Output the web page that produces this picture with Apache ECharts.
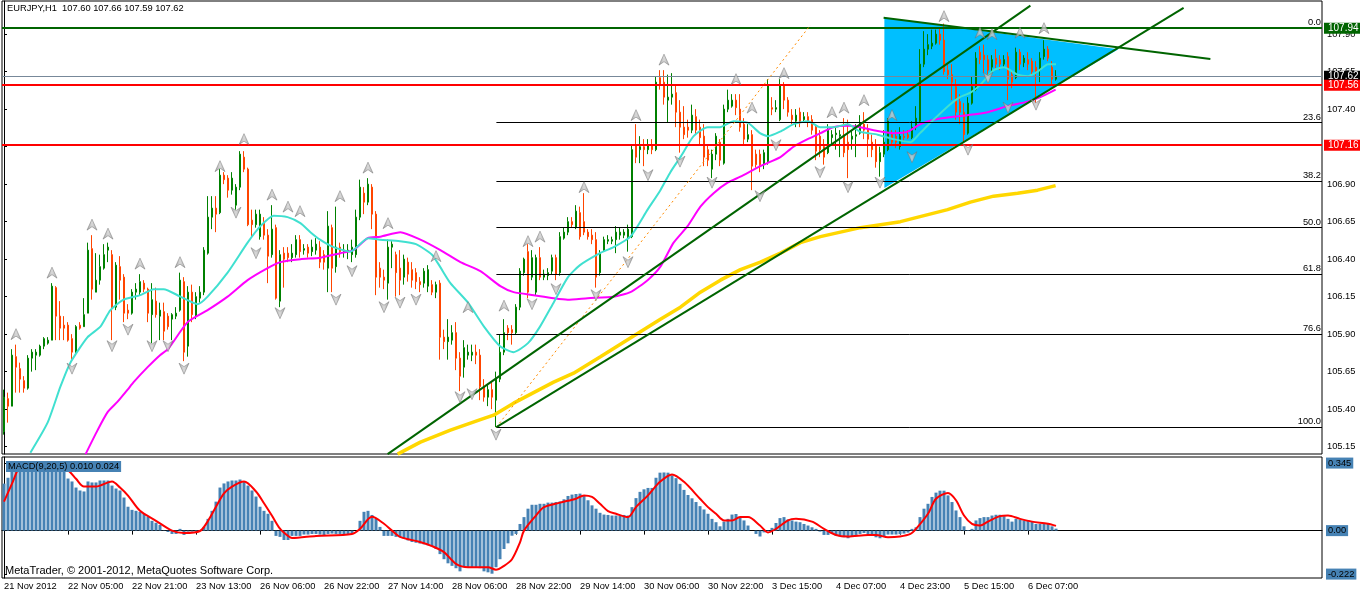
<!DOCTYPE html>
<html><head><meta charset="utf-8">
<script src="https://cdn.jsdelivr.net/npm/echarts@6/dist/echarts.min.js"></script>
<style>html,body{margin:0;padding:0;background:#fff}#c{width:1360px;height:596px}</style>
</head><body><div id="c"></div>
<script>
const tickLabels = ["21 Nov 2012","22 Nov 05:00","22 Nov 21:00","23 Nov 13:00","26 Nov 06:00","26 Nov 22:00","27 Nov 14:00","28 Nov 06:00","28 Nov 22:00","29 Nov 14:00","30 Nov 06:00","30 Nov 22:00","3 Dec 15:00","4 Dec 07:00","4 Dec 23:00","5 Dec 15:00","6 Dec 07:00"];
const priceTicks = [105.15,105.40,105.65,105.90,106.15,106.40,106.65,106.90,107.15,107.40,107.65,107.90];
const macdTicks = [0.345,0,-0.222];
const macdTickText = ["0.345","0.00","-0.222"];
const titleText = "EURJPY,H1  107.60 107.66 107.59 107.62";
const macdText = "MACD(9,20,5) 0.010 0.024";
const copyText = "MetaTrader, \u00a9 2001-2012, MetaQuotes Software Corp.";

// [open, close, low, high]
const ohlc = [
[105.25,105.48,105.23,105.53],[105.47,105.42,105.31,105.51],[105.42,105.76,105.42,105.80],[105.75,105.68,105.51,105.83],[105.67,105.60,105.51,105.71],
[105.59,105.54,105.51,105.62],[105.54,105.74,105.53,105.76],[105.74,105.78,105.65,105.80],[105.76,105.78,105.66,105.80],[105.76,105.82,105.75,105.83],
[105.82,105.87,105.80,105.88],[105.84,105.86,105.83,105.88],[105.86,106.22,105.86,106.24],[106.21,106.02,105.86,106.22],[106.02,105.94,105.86,106.12],
[105.96,105.94,105.86,106.02],[105.96,105.86,105.85,105.98],[105.87,105.78,105.73,105.90],[105.78,105.95,105.76,105.96],[105.96,105.94,105.93,105.98],
[105.95,106.03,105.95,106.14],[106.04,106.46,106.04,106.51],[106.47,106.20,106.13,106.56],[106.18,106.26,106.18,106.44],[106.26,106.35,106.23,106.43],
[106.34,106.43,106.33,106.50],[106.46,106.48,106.38,106.51],[106.43,106.08,105.86,106.46],[106.08,106.36,106.06,106.38],[106.35,106.26,106.13,106.42],
[106.28,106.04,105.98,106.30],[106.06,106.04,106.00,106.10],[106.04,106.18,106.03,106.20],[106.18,106.20,106.13,106.24],[106.18,106.25,106.16,106.30],
[106.24,106.20,106.18,106.26],[106.20,106.04,105.98,106.21],[106.03,106.13,105.84,106.24],[106.12,106.03,106.01,106.21],[106.02,106.06,105.86,106.11],
[106.05,105.92,105.86,106.11],[106.02,105.95,105.93,106.04],[106.00,106.03,105.86,106.04],[106.02,106.04,106.00,106.08],[106.06,106.26,106.05,106.31],
[106.25,105.78,105.72,106.28],[105.82,106.18,105.75,106.22],[106.18,106.03,105.98,106.23],[106.02,106.15,106.00,106.18],[106.14,106.18,106.11,106.22],
[106.18,106.46,106.16,106.48],[106.44,106.68,106.43,106.82],[106.68,106.74,106.60,106.82],[106.74,106.70,106.58,106.82],[106.71,106.96,106.70,107.00],
[106.96,106.93,106.90,106.98],[106.94,106.86,106.81,106.96],[106.86,106.94,106.83,106.98],[106.76,106.88,106.73,106.90],[106.88,107.10,106.86,107.12],
[107.08,107.00,106.98,107.12],[107.00,106.63,106.62,107.01],[106.66,106.63,106.55,106.73],[106.63,106.70,106.61,106.73],[106.55,106.70,106.53,106.73],
[106.65,106.56,106.53,106.68],[106.56,106.42,106.24,106.60],[106.43,106.60,106.41,106.76],[106.61,106.14,106.13,106.63],[106.12,106.43,106.08,106.46],
[106.44,106.40,106.21,106.48],[106.44,106.41,106.38,106.48],[106.41,106.44,106.38,106.50],[106.43,106.53,106.41,106.56],[106.53,106.45,106.41,106.56],
[106.46,106.47,106.43,106.50],[106.48,106.44,106.41,106.50],[106.45,106.48,106.42,106.53],[106.46,106.50,106.43,106.54],[106.48,106.38,106.34,106.52],
[106.43,106.38,106.33,106.46],[106.34,106.62,106.18,106.72],[106.61,106.34,106.18,106.63],[106.35,106.48,106.31,106.75],[106.48,106.45,106.41,106.51],
[106.45,106.46,106.41,106.50],[106.45,106.46,106.40,106.50],[106.43,106.48,106.38,106.53],[106.43,106.68,106.41,106.73],[106.68,106.88,106.66,106.93],
[106.84,106.78,106.70,106.88],[106.78,106.90,106.76,106.94],[106.88,106.70,106.60,106.90],[106.70,106.28,106.16,106.72],[106.34,106.28,106.21,106.38],
[106.28,106.26,106.20,106.33],[106.24,106.48,106.13,106.53],[106.48,106.50,106.34,106.52],[106.43,106.31,106.15,106.45],[106.34,106.26,106.16,106.46],
[106.28,106.40,106.23,106.43],[106.38,106.30,106.25,106.41],[106.33,106.26,106.21,106.38],[106.31,106.25,106.20,106.34],[106.25,106.23,106.18,106.28],
[106.24,106.32,106.21,106.34],[106.22,106.33,106.18,106.36],[106.23,106.18,106.16,106.26],[106.18,106.23,106.14,106.25],[106.24,105.88,105.73,106.26],
[105.88,105.85,105.80,105.93],[105.85,105.88,105.73,106.00],[105.86,105.91,105.83,105.96],[105.91,105.74,105.66,105.98],[105.74,105.62,105.52,105.78],
[105.68,105.81,105.61,105.86],[105.76,105.78,105.73,105.83],[105.76,105.78,105.72,105.83],[105.78,105.76,105.70,105.83],[105.76,105.55,105.46,105.80],
[105.55,105.48,105.45,105.60],[105.48,105.53,105.42,105.56],[105.53,105.48,105.40,105.58],[105.46,105.61,105.28,105.65],[105.60,105.78,105.58,105.90],
[105.78,105.91,105.76,106.00],[105.94,105.91,105.86,105.96],[105.93,105.91,105.83,105.96],[105.91,106.08,105.90,106.10],[106.08,106.32,106.06,106.34],
[106.31,106.40,106.29,106.41],[106.45,106.18,106.14,106.50],[106.28,106.41,106.26,106.46],[106.18,106.41,106.16,106.43],[106.41,106.28,106.26,106.48],
[106.28,106.30,106.26,106.33],[106.29,106.31,106.26,106.34],[106.32,106.41,106.30,106.43],[106.41,106.30,106.26,106.43],[106.31,106.55,106.29,106.58],
[106.54,106.58,106.53,106.61],[106.58,106.65,106.56,106.68],[106.65,106.63,106.61,106.68],[106.61,106.72,106.60,106.76],[106.71,106.55,106.53,106.75],
[106.65,106.58,106.56,106.84],[106.58,106.55,106.53,106.60],[106.56,106.53,106.50,106.60],[106.53,106.28,106.21,106.58],[106.31,106.44,106.29,106.46],
[106.46,106.53,106.45,106.55],[106.52,106.53,106.50,106.56],[106.52,106.53,106.50,106.55],[106.53,106.58,106.44,106.62],[106.56,106.58,106.53,106.61],
[106.56,106.58,106.54,106.60],[106.55,106.60,106.45,106.63],[106.55,107.13,106.54,107.16],[107.16,107.08,107.04,107.30],[107.13,107.15,107.04,107.22],
[107.15,107.13,107.02,107.20],[107.13,107.16,107.10,107.20],[107.16,107.13,107.10,107.20],[107.13,107.58,107.12,107.62],[107.61,107.56,107.53,107.66],
[107.58,107.48,107.43,107.66],[107.46,107.48,107.31,107.63],[107.48,107.50,107.43,107.64],[107.51,107.38,107.28,107.56],[107.38,107.28,107.11,107.46],
[107.28,107.23,107.20,107.42],[107.28,107.26,107.21,107.33],[107.26,107.36,107.24,107.43],[107.35,107.26,107.23,107.40],[107.28,107.21,107.16,107.33],
[107.22,107.08,107.02,107.30],[107.13,107.06,107.02,107.16],[107.00,107.10,106.94,107.13],[107.10,107.22,107.06,107.24],[107.18,107.06,107.02,107.20],
[107.04,107.40,107.03,107.43],[107.40,107.46,107.38,107.53],[107.42,107.46,107.41,107.50],[107.46,107.41,107.36,107.50],[107.40,107.28,107.25,107.50],
[107.30,107.20,107.16,107.34],[107.20,107.23,107.18,107.30],[107.23,107.02,106.86,107.26],[107.10,107.03,107.01,107.13],[107.10,107.03,106.98,107.13],
[107.03,107.11,107.00,107.13],[107.05,107.56,107.03,107.60],[107.41,107.40,107.36,107.48],[107.40,107.41,107.38,107.46],[107.33,107.56,107.32,107.60],
[107.56,107.46,107.40,107.58],[107.46,107.38,107.35,107.48],[107.36,107.33,107.30,107.40],[107.32,107.36,107.28,107.40],[107.38,107.31,107.28,107.41],
[107.33,107.35,107.31,107.38],[107.35,107.32,107.28,107.38],[107.33,107.26,107.23,107.36],[107.28,107.12,107.06,107.30],[107.22,107.13,107.08,107.26],
[107.15,107.08,107.03,107.20],[107.11,107.26,107.10,107.30],[107.21,107.23,107.16,107.26],[107.23,107.24,107.13,107.28],[107.22,107.23,107.08,107.26],
[107.22,107.11,107.08,107.34],[107.18,107.13,106.94,107.33],[107.20,107.22,107.13,107.26],[107.22,107.23,107.08,107.30],[107.24,107.30,107.23,107.36],
[107.30,107.26,107.20,107.38],[107.26,107.20,107.08,107.30],[107.18,107.13,107.08,107.23],[107.16,107.05,107.01,107.20],[107.05,107.11,106.95,107.15],
[107.10,107.18,107.08,107.26],[107.13,107.32,107.12,107.34],[107.23,107.18,107.16,107.26],[107.22,107.18,107.14,107.26],[107.15,107.22,107.13,107.28],
[107.22,107.21,107.18,107.26],[107.23,107.21,107.20,107.26],[107.21,107.28,107.20,107.32],[107.28,107.34,107.26,107.42],[107.32,107.70,107.31,107.80],
[107.70,107.80,107.68,107.92],[107.80,107.83,107.76,107.90],[107.82,107.84,107.80,107.93],[107.84,107.90,107.83,107.93],[107.90,107.86,107.83,107.94],
[107.86,107.65,107.63,107.97],[107.66,107.63,107.60,107.70],[107.63,107.58,107.46,107.70],[107.55,107.38,107.33,107.60],[107.45,107.38,107.30,107.50],
[107.38,107.23,107.18,107.44],[107.24,107.44,107.23,107.48],[107.44,107.55,107.43,107.62],[107.53,107.74,107.52,107.78],[107.78,107.73,107.70,107.82],
[107.76,107.73,107.64,107.83],[107.73,107.66,107.63,107.76],[107.68,107.73,107.65,107.76],[107.74,107.70,107.66,107.80],[107.73,107.70,107.66,107.76],
[107.70,107.73,107.68,107.76],[107.75,107.60,107.46,107.78],[107.63,107.58,107.54,107.66],[107.61,107.78,107.60,107.81],[107.78,107.70,107.66,107.80],
[107.71,107.74,107.68,107.76],[107.73,107.70,107.66,107.78],[107.72,107.65,107.63,107.74],[107.68,107.64,107.44,107.72],[107.66,107.74,107.58,107.78],
[107.75,107.80,107.73,107.86],[107.80,107.74,107.72,107.82],[107.68,107.60,107.56,107.72],[107.60,107.62,107.59,107.66]
];

// moving averages: [bar, price]
const maFast = [[6.6,105.11],[10.9,105.31],[14.1,105.55],[16.6,105.71],[20.9,105.88],[24.1,105.95],[26.6,106.06],[29.9,106.13],[34.1,106.16],[37.4,106.20],[39.9,106.20],[44.1,106.15],[48.4,106.10],[50.9,106.15],[55.9,106.31],[60.9,106.51],[64.1,106.62],[67.4,106.69],[70.9,106.68],[74.1,106.64],[76.6,106.58],[79,106.53],[82.4,106.48],[86.6,106.45],[91,106.54],[94,106.53],[99,106.52],[103,106.50],[107,106.43],[109,106.35],[111.6,106.24],[116,106.11],[120,105.95],[124,105.82],[127.4,105.78],[131,105.84],[134,105.95],[137.4,106.11],[141,106.28],[144,106.36],[149,106.44],[152.4,106.48],[156.6,106.55],[160.9,106.73],[164.1,106.86],[166.6,106.98],[169.1,107.08],[172.4,107.22],[175.9,107.28],[179,107.28],[182.4,107.32],[185.9,107.31],[189,107.24],[191,107.22],[194,107.25],[197.4,107.30],[201,107.32],[204,107.28],[207.4,107.28],[211,107.30],[214,107.25],[218.4,107.23],[222.4,107.20],[226.6,107.18],[229,107.24],[232.4,107.33],[236,107.42],[239,107.48],[241.6,107.51],[244,107.56],[247.4,107.66],[250,107.68],[253.4,107.63],[256,107.62],[258.4,107.65],[261,107.70],[263,107.70]];
const maMid = [[20.4,105.10],[23.4,105.26],[25.9,105.38],[28.4,105.45],[30.9,105.53],[32.4,105.58],[35.9,105.68],[39,105.76],[41,105.80],[45.9,105.98],[50.9,106.06],[55.9,106.15],[60.9,106.26],[65.9,106.34],[69.1,106.38],[74.1,106.40],[79.1,106.41],[84.1,106.44],[87.4,106.46],[90.9,106.54],[94.1,106.55],[99.1,106.58],[104.1,106.53],[109.1,106.46],[114.1,106.38],[119.1,106.32],[124.1,106.22],[127.4,106.18],[132.4,106.16],[137.4,106.14],[140.9,106.13],[145.9,106.14],[152.4,106.15],[156.6,106.18],[160.9,106.26],[164.1,106.35],[167.4,106.51],[170.9,106.62],[174.1,106.75],[177.4,106.84],[180.9,106.91],[184.1,106.95],[189.1,107.02],[194.1,107.08],[197.4,107.15],[200.9,107.20],[204.1,107.24],[207.4,107.28],[210.9,107.29],[214.1,107.28],[217.4,107.26],[222.4,107.24],[225.9,107.25],[229.1,107.30],[232.4,107.33],[237.4,107.35],[240.9,107.36],[245.9,107.38],[250.9,107.42],[255.9,107.45],[259.1,107.48],[262.9,107.53]];
const maSlow = [[98.4,105.10],[104.1,105.18],[111.6,105.26],[119.1,105.33],[122.4,105.36],[127.4,105.44],[132.4,105.51],[137.4,105.58],[142.4,105.64],[149.1,105.75],[164.1,106.00],[169.1,106.08],[174.1,106.18],[179.1,106.26],[184.1,106.33],[189.1,106.38],[194.1,106.44],[199.1,106.51],[204.1,106.55],[209.1,106.58],[214.1,106.61],[219.1,106.63],[224.1,106.65],[235.9,106.73],[241.6,106.78],[247.4,106.82],[253.4,106.84],[258.4,106.86],[262.9,106.89]];

const macdHist = [0.24,0.27,0.30,0.32,0.33,0.335,0.34,0.345,0.345,0.34,0.34,0.335,0.34,0.33,0.32,0.30,0.266,0.251,0.22,0.205,
0.20,0.251,0.246,0.246,0.256,0.256,0.256,0.23,0.215,0.205,0.169,0.122,0.106,0.101,0.096,0.086,0.071,0.050,0.040,0.029,
-0.002,-0.007,-0.017,-0.017,0.009,-0.022,-0.005,-0.005,0.003,0.003,0.019,0.060,0.101,0.148,0.220,0.241,0.251,0.256,0.256,0.261,
0.25,0.230,0.205,0.174,0.122,0.101,0.086,0.050,-0.027,-0.032,-0.048,-0.048,-0.027,-0.027,-0.027,-0.02,-0.02,-0.017,-0.017,-0.02,
-0.022,-0.017,-0.015,-0.017,-0.017,-0.02,-0.02,-0.017,0.00,0.050,0.096,0.101,0.080,0.060,0.019,-0.027,-0.027,-0.027,-0.032,-0.034,
-0.04,-0.05,-0.058,-0.062,-0.066,-0.07,-0.075,-0.08,-0.094,-0.12,-0.146,-0.167,-0.18,-0.192,-0.208,-0.187,-0.187,-0.187,-0.187,-0.192,
-0.208,-0.213,-0.22,-0.187,-0.146,-0.094,-0.065,-0.026,-0.017,0.034,0.069,0.112,0.132,0.132,0.137,0.137,0.143,0.143,0.146,0.149,
0.160,0.177,0.184,0.187,0.189,0.180,0.155,0.129,0.112,0.091,0.082,0.080,0.077,0.077,0.077,0.080,0.077,0.12,0.166,0.198,
0.211,0.218,0.218,0.27,0.296,0.297,0.296,0.282,0.268,0.239,0.208,0.182,0.165,0.146,0.125,0.108,0.086,0.06,0.043,0.022,
0.046,0.06,0.082,0.085,0.069,0.052,0.026,0.0,-0.017,-0.03,-0.009,0.002,0.014,0.039,0.064,0.069,0.057,0.052,0.046,0.043,
0.034,0.026,0.017,0.009,-0.005,-0.022,-0.022,-0.017,-0.026,-0.03,-0.034,-0.039,-0.03,-0.022,-0.017,-0.012,-0.017,-0.026,-0.034,-0.039,
-0.03,-0.02,-0.02,-0.02,-0.018,-0.015,-0.01,0.009,0.017,0.069,0.112,0.137,0.172,0.194,0.204,0.204,0.18,0.146,0.103,0.069,
0.022,0.003,0.009,0.052,0.064,0.069,0.069,0.077,0.081,0.081,0.074,0.06,0.046,0.06,0.057,0.052,0.052,0.046,0.034,0.034,
0.034,0.034,0.022,0.010];
const macdSignal = [[0,0.148],[2,0.24],[4,0.33],[6,0.35],[10,0.35],[13,0.34],[16,0.309],[18,0.265],[20,0.225],[23,0.225],[27,0.251],[29,0.22],[31,0.179],[34,0.101],[38,0.050],[42,0.0],[45,-0.012],[49,-0.002],[51,0.05],[53,0.122],[55,0.19],[57,0.225],[60,0.251],[63,0.200],[65,0.14],[67,0.076],[69,0.01],[71,-0.027],[72,-0.038],[78,-0.027],[87,-0.017],[89,0.009],[92,0.071],[95,0.035],[97,0.0],[99,-0.032],[104,-0.058],[107,-0.079],[110,-0.11],[113,-0.17],[116,-0.187],[121,-0.187],[123,-0.2],[125,-0.18],[127,-0.146],[129,-0.06],[130,0.0],[133,0.077],[135,0.12],[139,0.143],[143,0.163],[145,0.18],[147,0.172],[149,0.137],[151,0.1],[153,0.086],[156,0.069],[158,0.12],[161,0.18],[164,0.249],[167,0.287],[170,0.249],[174,0.163],[176,0.12],[178,0.086],[180,0.052],[182,0.052],[184,0.069],[186,0.069],[189,0.026],[191,-0.009],[193,0.009],[196,0.052],[198,0.060],[202,0.046],[205,0.009],[208,-0.022],[211,-0.03],[216,-0.022],[218,-0.022],[221,-0.034],[224,-0.03],[226.6,-0.017],[228,0.009],[231,0.086],[233,0.163],[236,0.192],[238,0.155],[240,0.077],[242,0.034],[244,0.026],[246,0.046],[249,0.074],[251,0.077],[254,0.06],[257,0.046],[261,0.035],[263,0.024]];

const fractalUp = [[3,105.90],[12,106.31],[22,106.63],[26,106.57],[34,106.37],[44,106.38],[54,107.02],[60,107.20],[67,106.83],[71,106.75],[74,106.72],[84,106.82],[91,107.01],[96,106.64],[108,106.42],[116,106.08],[125,106.09],[131,106.52],[134,106.55],[145,106.88],[158,107.36],[165,107.73],[183,107.60],[187,107.41],[195,107.64],[207,107.38],[210,107.41],[215,107.46],[222,107.36],[235,108.02],[244,107.91],[247,107.90],[254,107.91],[260,107.94]];
const fractalDown = [[17,105.67],[27,105.82],[31,105.93],[37,105.82],[41,105.82],[45,105.67],[58,106.71],[63,106.44],[69,106.04],[83,106.13],[87,106.32],[95,106.08],[99,106.11],[103,106.13],[114,105.48],[117,105.50],[123,105.23],[132,106.10],[138,106.20],[148,106.16],[156,106.38],[161,106.96],[169,107.05],[177,106.91],[189,106.82],[193,107.16],[204,106.98],[211,106.88],[219,106.91],[227,107.08],[241,107.13],[246,107.61],[251,107.41],[258,107.43]];

const fibNames = ["0.0","23.6","38.2","50.0","61.8","76.6","100.0"];
const fibPrices = [107.94,107.31,106.92,106.61,106.30,105.90,105.28];
const fibStart = 123.1;
const levelPrices = [107.94,107.62,107.56,107.16];
const trendA = [[95.9,105.10],[256.6,108.09]];
const trendB = [[123.1,105.28],[294.9,108.075]];
const trendC = [[219.9,108.01],[301.6,107.735]];
const fibDiagonal = [[123.1,105.28],[201.6,107.96]];
const triangle = [[220.1,108.01],[220.1,106.875],[278.6,107.80]];

const FONT = '"Liberation Sans", Arial, sans-serif';
const NSLOT = 330;
const slots = Array.from({length: NSLOT}, (_, i) => String(i));
const levelColors = ['#006400','#778899','#FF0000','#FF0000'];
const levelTagBg = ['#006400','#000000','#FF0000','#FF0000'];
const levelWidths = [2,1,2,2];
const ARROW = 'path://M5,0 L10,11 L5,7.5 L0,11 Z';
const arrowStyle = {color: new echarts.graphic.LinearGradient(0, 0, 1, 0, [{offset: 0, color: '#8A8A8A'}, {offset: 0.5, color: '#D0D0D0'}, {offset: 1, color: '#9A9A9A'}]), borderColor: '#707070', borderWidth: 0.6};

const chart = echarts.init(document.getElementById('c'), null, {renderer: 'canvas'});
const labelEvery = i => i % 16 === 0 && (i / 16) < tickLabels.length;
const txt = (size) => ({fontSize: size, fontWeight: 'normal', color: '#000', fontFamily: FONT});

const option = {
  animation: false,
  backgroundColor: '#ffffff',
  textStyle: {fontFamily: FONT},
  title: [
    {text: titleText, left: 7, top: 4, padding: 0, textStyle: txt(9.3)},
    {text: macdText, left: 6, top: 461, padding: [1, 2, 1, 2], backgroundColor: '#4682B4', textStyle: txt(9.3)},
    {text: copyText, left: 5, top: 565, padding: 0, textStyle: txt(11)}
  ],
  grid: [
    {left: 2, top: 1, width: 1320, height: 453, show: true, borderColor: '#000', borderWidth: 1, backgroundColor: '#fff'},
    {left: 2, top: 457, width: 1320, height: 121, show: true, borderColor: '#000', borderWidth: 1, backgroundColor: '#fff'}
  ],
  xAxis: [
    {type: 'category', gridIndex: 0, data: slots, boundaryGap: true, axisLine: {show: false}, axisTick: {show: false}, axisLabel: {show: false}, splitLine: {show: false}},
    {type: 'category', gridIndex: 1, data: slots, boundaryGap: true,
      axisLine: {show: true, lineStyle: {color: '#000', width: 1}},
      axisTick: {show: true, interval: labelEvery, alignWithLabel: true, length: 4, lineStyle: {color: '#000'}},
      axisLabel: Object.assign({show: true, interval: labelEvery, align: 'left', margin: 4,
        formatter: (v, idx) => tickLabels[Math.round(idx / 16)] || ''}, txt(9.3)),
      splitLine: {show: false}},
    {type: 'value', gridIndex: 0, min: -0.5, max: NSLOT - 0.5, show: false},
    {type: 'value', gridIndex: 1, min: -0.5, max: NSLOT - 0.5, show: false}
  ],
  yAxis: [
    {type: 'value', gridIndex: 0, position: 'right', min: 105.101, max: 108.121, scale: true,
      axisLine: {show: true, lineStyle: {color: '#000'}},
      axisTick: {show: true, inside: false, length: 3, customValues: priceTicks, lineStyle: {color: '#000'}},
      axisLabel: Object.assign({show: true, customValues: priceTicks, margin: 5, formatter: v => v.toFixed(2)}, txt(9.3)),
      splitLine: {show: false}},
    {type: 'value', gridIndex: 1, position: 'right', min: -0.242, max: 0.376,
      axisLine: {show: true, lineStyle: {color: '#000'}},
      axisTick: {show: true, inside: false, length: 3, customValues: macdTicks, lineStyle: {color: '#000'}},
      axisLabel: Object.assign({show: true, customValues: macdTicks, margin: 4,
        backgroundColor: '#4682B4', padding: [1, 2, 1, 2],
        formatter: v => { let k = macdTicks.findIndex(t => Math.abs(t - v) < 1e-6); return k >= 0 ? macdTickText[k] : ''; }}, txt(9.3)),
      splitLine: {show: false}}
  ],
  series: [
    {type: 'custom', name: 'triangle', xAxisIndex: 2, yAxisIndex: 0, z: 1, silent: true,
      data: [0],
      renderItem: (params, api) => ({
        type: 'polygon',
        shape: {points: triangle.map(p => api.coord(p))},
        style: {fill: '#00BFFF', stroke: null}
      })},
    {type: 'line', name: 'fib', xAxisIndex: 2, yAxisIndex: 0, z: 2, data: [], silent: true,
      markLine: {silent: true, symbol: ['none', 'none'], animation: false,
        data: fibPrices.map((p, k) => [
          {coord: [fibStart, p], lineStyle: {color: '#000', width: 1, type: 'solid'},
            label: Object.assign({show: true, position: 'insideEndTop', formatter: fibNames[k], distance: 1}, txt(9.3))},
          {coord: [NSLOT - 0.5, p]}
        ])}},
    {type: 'candlestick', name: 'EURJPY', xAxisIndex: 0, yAxisIndex: 0, z: 3, data: ohlc, barWidth: 2,
      itemStyle: {color: '#008000', color0: '#FF4500', borderColor: '#008000', borderColor0: '#FF4500', borderWidth: 1}},
    {type: 'line', name: 'maSlow', xAxisIndex: 2, yAxisIndex: 0, z: 4, data: maSlow, showSymbol: false, symbol: 'none', lineStyle: {color: '#FFD700', width: 3.5}},
    {type: 'line', name: 'maMid', xAxisIndex: 2, yAxisIndex: 0, z: 4, data: maMid, showSymbol: false, symbol: 'none', smooth: 0.2, lineStyle: {color: '#FF00FF', width: 2}},
    {type: 'line', name: 'maFast', xAxisIndex: 2, yAxisIndex: 0, z: 4, data: maFast, showSymbol: false, symbol: 'none', smooth: 0.2, lineStyle: {color: '#40E0D0', width: 2}},
    {type: 'line', name: 'fibDiag', xAxisIndex: 2, yAxisIndex: 0, z: 5, data: fibDiagonal, showSymbol: false, symbol: 'none', lineStyle: {color: '#FF8C00', width: 1, type: [2, 3]}},
    {type: 'line', name: 'trendA', xAxisIndex: 2, yAxisIndex: 0, z: 5, data: trendA, showSymbol: false, symbol: 'none', lineStyle: {color: '#006400', width: 2}},
    {type: 'line', name: 'trendB', xAxisIndex: 2, yAxisIndex: 0, z: 5, data: trendB, showSymbol: false, symbol: 'none', lineStyle: {color: '#006400', width: 2}},
    {type: 'line', name: 'trendC', xAxisIndex: 2, yAxisIndex: 0, z: 5, data: trendC, showSymbol: false, symbol: 'none', lineStyle: {color: '#006400', width: 2}},
    {type: 'line', name: 'levels', xAxisIndex: 2, yAxisIndex: 0, z: 6, data: [], silent: true,
      markLine: {silent: true, symbol: ['none', 'none'], animation: false,
        data: levelPrices.map((p, k) => ({yAxis: p, lineStyle: {color: levelColors[k], width: levelWidths[k], type: 'solid'},
          label: {show: true, position: 'end', distance: 2, formatter: p.toFixed(2), color: '#fff', backgroundColor: levelTagBg[k],
            padding: [1, 4, 0, 4], fontSize: 10, fontFamily: FONT}}))}},
    {type: 'scatter', name: 'fractalUp', xAxisIndex: 2, yAxisIndex: 0, z: 7, data: fractalUp, silent: true,
      symbol: ARROW, symbolSize: [10, 11], itemStyle: arrowStyle},
    {type: 'scatter', name: 'fractalDown', xAxisIndex: 2, yAxisIndex: 0, z: 7, data: fractalDown, silent: true,
      symbol: ARROW, symbolSize: [10, 11], symbolRotate: 180, itemStyle: arrowStyle},
    {type: 'bar', name: 'macd', xAxisIndex: 1, yAxisIndex: 1, z: 2, data: macdHist, barWidth: 3, itemStyle: {color: '#4682B4'}},
    {type: 'line', name: 'signal', xAxisIndex: 3, yAxisIndex: 1, z: 3, data: macdSignal, showSymbol: false, symbol: 'none', smooth: 0.3, lineStyle: {color: '#FF0000', width: 2}}
  ]
};
chart.setOption(option);
</script>
</body></html>
